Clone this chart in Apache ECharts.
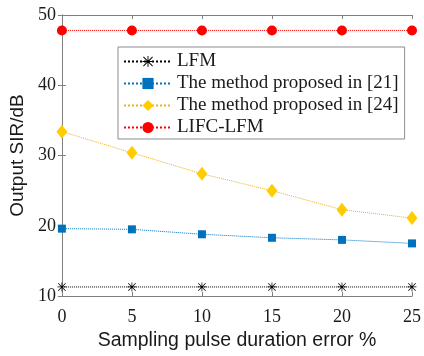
<!DOCTYPE html>
<html>
<head>
<meta charset="utf-8">
<script src="https://cdn.jsdelivr.net/npm/echarts@6/dist/echarts.min.js"></script>
<style>
html,body{margin:0;padding:0;background:#fff;}
#chart{width:424px;height:356px;}
</style>
</head>
<body>
<div id="chart"></div>
<script>
// x positions: sampling pulse duration error (%)
var errors = [0, 5, 10, 15, 20, 25];
var lfm = [11.3, 11.3, 11.3, 11.3, 11.3, 11.3];
var method21 = [19.6, 19.5, 18.8, 18.3, 18.0, 17.5];
var method24 = [33.4, 30.4, 27.4, 25.0, 22.3, 21.1];
var lifcLfm = [47.8, 47.8, 47.8, 47.8, 47.8, 47.8];
var yTicks = [10, 20, 30, 40, 50];

var names = ['LFM', 'The method proposed in [21]', 'The method proposed in [24]', 'LIFC-LFM'];

function pairs(ys){
	var out = [];
	for(var i = 0 ; i < errors.length ; i++){
		out.push([errors[i], ys[i]]);
	}
	return out;
}

var star = 'path://M4.6 0 L5.4 0 L5.4 10 L4.6 10 Z M0 4.6 L10 4.6 L10 5.4 L0 5.4 Z M1.2 0.6 L9.4 8.8 L8.8 9.4 L0.6 1.2 Z M8.8 0.6 L9.4 1.2 L1.2 9.4 L0.6 8.8 Z';
var serif = 'Liberation Serif';
var sans = 'Liberation Sans';
var axisGray = '#7f7f7f';
var textColor = '#1a1a1a';

var chart = echarts.init(document.getElementById('chart'));
var option = {
	animation : false,
	grid : { left: 61, right: 11, top: 15, bottom: 58 },
	legend : {
		orient : 'vertical',
		left : 118,
		top : 47,
		padding : [5, 6, 2, 5],
		itemWidth : 48,
		itemHeight : 14,
		itemGap : 3,
		backgroundColor : '#fff',
		borderColor : '#8c8c8c',
		borderWidth : 1,
		textStyle : { fontFamily: serif, fontSize: 19, color: textColor },
		data : names
	},
	xAxis : [
		{
			type : 'value',
			min : 0, max : 25, interval : 5,
			name : 'Sampling pulse duration error %',
			nameLocation : 'middle',
			nameGap : 34,
			nameTextStyle : { fontFamily: sans, fontSize: 19.5, color: textColor },
			axisLine : { lineStyle: { color: axisGray } },
			axisTick : { inside: true, length: 4, lineStyle: { color: axisGray } },
			axisLabel : { fontFamily: serif, fontSize: 18, color: textColor, margin: 12 },
			splitLine : { show: false }
		},
		{
			type : 'value', position : 'top',
			min : 0, max : 25, interval : 5,
			axisLine : { show: true, lineStyle: { color: axisGray } },
			axisTick : { show: true, inside: true, length: 4, lineStyle: { color: axisGray } },
			axisLabel : { show: false },
			splitLine : { show: false }
		}
	],
	yAxis : [
		{
			type : 'value',
			min : yTicks[0], max : yTicks[yTicks.length-1], interval : 10,
			name : 'Output SIR/dB',
			nameLocation : 'middle',
			nameGap : 32,
			nameTextStyle : { fontFamily: sans, fontSize: 19, color: textColor },
			axisLine : { show: true, lineStyle: { color: axisGray } },
			axisTick : { show: true, inside: true, length: 4, lineStyle: { color: axisGray } },
			axisLabel : { fontFamily: serif, fontSize: 18, color: textColor, margin: 6 },
			splitLine : { show: false }
		},
		{
			type : 'value', position : 'right',
			min : 10, max : 50, interval : 10,
			axisLine : { show: true, lineStyle: { color: axisGray } },
			axisTick : { show: true, inside: true, length: 4, lineStyle: { color: axisGray } },
			axisLabel : { show: false },
			splitLine : { show: false }
		}
	],
	series : [
		{
			name : names[0], type : 'line', data : pairs(lfm),
			symbol : star, symbolSize : 9,
			itemStyle : { color: '#000' },
			lineStyle : { color: '#000', width: 1, type: 'dotted' }
		},
		{
			name : names[1], type : 'line', data : pairs(method21),
			symbol : 'rect', symbolSize : 8,
			itemStyle : { color: '#0072BD' },
			lineStyle : { color: '#0072BD', width: 1, type: 'dotted' }
		},
		{
			name : names[2], type : 'line', data : pairs(method24),
			symbol : 'diamond', symbolSize : [11, 14],
			itemStyle : { color: '#FFCC00' },
			lineStyle : { color: '#EDB120', width: 1, type: 'dotted' }
		},
		{
			name : names[3], type : 'line', data : pairs(lifcLfm),
			symbol : 'circle', symbolSize : 10,
			itemStyle : { color: '#FF0000' },
			lineStyle : { color: '#FF0000', width: 1, type: 'dotted' },
			clip : false
		}
	]
};
chart.setOption(option);
</script>
</body>
</html>
